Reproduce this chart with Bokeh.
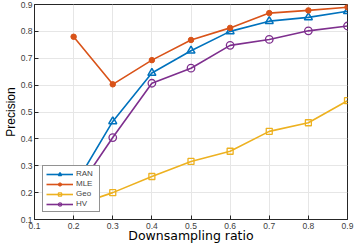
from bokeh.plotting import figure
from bokeh.models import Legend, LegendItem, FixedTicker
from bokeh.embed import file_html
from bokeh.resources import INLINE

ratio = [0.2, 0.3, 0.4, 0.5, 0.6, 0.7, 0.8, 0.9]
ran = [0.22, 0.465, 0.645, 0.728, 0.800, 0.838, 0.852, 0.875]
mle = [0.780, 0.603, 0.693, 0.768, 0.813, 0.868, 0.878, 0.890]
geo = [0.15, 0.200, 0.260, 0.316, 0.354, 0.428, 0.460, 0.542]
hv = [0.19, 0.405, 0.607, 0.663, 0.748, 0.770, 0.802, 0.820]
ticks = [0.1, 0.2, 0.3, 0.4, 0.5, 0.6, 0.7, 0.8, 0.9]

C_RAN = "#0072BD"
C_MLE = "#D95319"
C_GEO = "#EDB120"
C_HV = "#7E2F8E"

p = figure(width=354, height=245, output_backend="svg", toolbar_location=None,
           x_range=(0.1, 0.9), y_range=(0.1, 0.9),
           min_border_left=34, min_border_right=7, min_border_top=4, min_border_bottom=26)
p.background_fill_color = "white"
p.outline_line_color = "#262626"
p.outline_line_width = 1

for ax in [p.xaxis[0], p.yaxis[0]]:
    ax.ticker = FixedTicker(ticks=ticks)
    ax.major_label_text_font = "Liberation Sans"
    ax.major_label_text_font_size = "8.5px"
    ax.major_label_text_color = "#404040"
    ax.axis_line_color = "#262626"
    ax.major_tick_line_color = "#262626"
    ax.major_tick_in = 4
    ax.major_tick_out = 0
    ax.minor_tick_line_color = None
    ax.axis_label_text_font_style = "normal"
    ax.axis_label_text_color = "#000000"

p.xaxis.axis_label = "Downsampling ratio"
p.xaxis.axis_label_text_font = "DejaVu Sans"
p.xaxis.axis_label_text_font_size = "12.5px"
p.xaxis.axis_label_standoff = -4
p.xaxis.major_label_standoff = 3
p.yaxis.axis_label = "Precision"
p.yaxis.axis_label_text_font = "Liberation Sans"
p.yaxis.axis_label_text_font_size = "12px"
p.yaxis.axis_label_standoff = 0
p.yaxis.major_label_standoff = 2

p.xgrid.grid_line_color = "#e6e6e6"
p.ygrid.grid_line_color = "#e6e6e6"
p.xgrid.ticker = FixedTicker(ticks=ticks)
p.ygrid.ticker = FixedTicker(ticks=ticks)

lw = 1.6
r1 = p.line(ratio, ran, color=C_RAN, line_width=lw)
m1 = p.scatter(ratio, ran, marker="triangle", size=8, line_color=C_RAN, fill_color=None, line_width=1.5)
r2 = p.line(ratio, mle, color=C_MLE, line_width=lw)
m2 = p.scatter(ratio, mle, marker="circle", size=5.5, line_color=C_MLE, fill_color=C_MLE, line_width=1)
r3 = p.line(ratio, geo, color=C_GEO, line_width=lw)
m3 = p.scatter(ratio, geo, marker="square", size=6, line_color=C_GEO, fill_color=None, line_width=1.3)
r4 = p.line(ratio, hv, color=C_HV, line_width=lw)
m4 = p.scatter(ratio, hv, marker="circle", size=7.5, line_color=C_HV, fill_color=None, line_width=1.3)

legend = Legend(items=[
    LegendItem(label="RAN", renderers=[r1, m1]),
    LegendItem(label="MLE", renderers=[r2, m2]),
    LegendItem(label="Geo", renderers=[r3, m3]),
    LegendItem(label="HV", renderers=[r4, m4]),
], location=(8, 7))
legend.label_text_font = "Liberation Sans"
legend.label_text_font_size = "8px"
legend.label_height = 8
legend.glyph_height = 8
legend.glyph_width = 27
legend.spacing = 1
legend.padding = 3
legend.margin = 0
legend.label_standoff = 3
legend.border_line_color = "#262626"
legend.border_line_width = 1
legend.background_fill_alpha = 1
p.add_layout(legend)

open("out.html", "w").write(file_html(p, INLINE))
